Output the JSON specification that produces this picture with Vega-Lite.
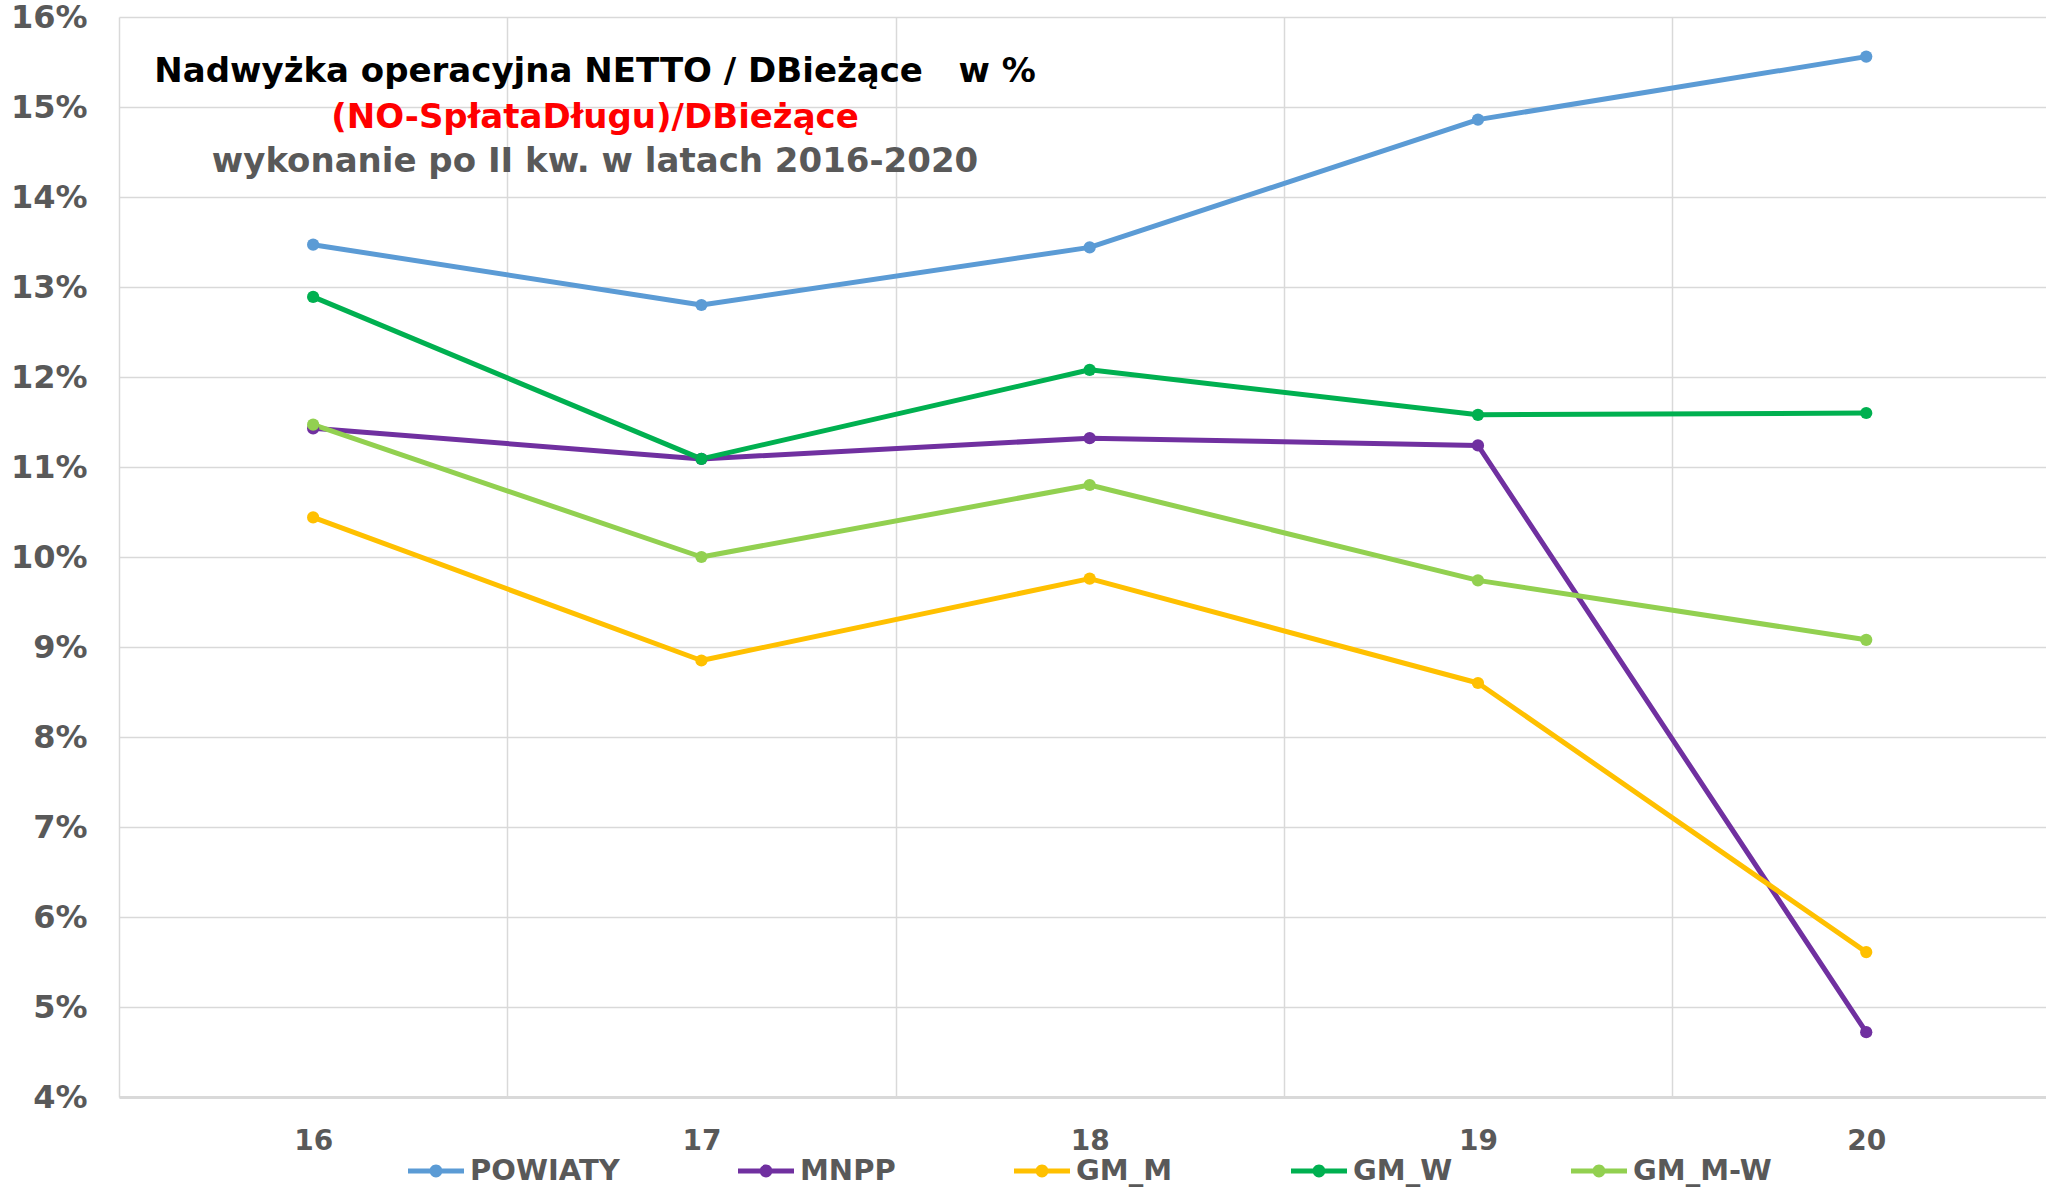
{
  "$schema": "https://vega.github.io/schema/vega-lite/v6.json",
  "width": 1927,
  "height": 1080,
  "autosize": {"type": "none"},
  "padding": {"left": 119, "top": 17, "right": 0, "bottom": 90},
  "background": "white",
  "config": {"view": {"stroke": null}, "font": "DejaVu Sans"},
  "datasets": {
    "serie": [
      {"rok": 16, "seria": "POWIATY", "wartosc": 13.47},
      {"rok": 17, "seria": "POWIATY", "wartosc": 12.80},
      {"rok": 18, "seria": "POWIATY", "wartosc": 13.44},
      {"rok": 19, "seria": "POWIATY", "wartosc": 14.86},
      {"rok": 20, "seria": "POWIATY", "wartosc": 15.56},
      {"rok": 16, "seria": "MNPP", "wartosc": 11.43},
      {"rok": 17, "seria": "MNPP", "wartosc": 11.09},
      {"rok": 18, "seria": "MNPP", "wartosc": 11.32},
      {"rok": 19, "seria": "MNPP", "wartosc": 11.24},
      {"rok": 20, "seria": "MNPP", "wartosc": 4.72},
      {"rok": 16, "seria": "GM_M", "wartosc": 10.44},
      {"rok": 17, "seria": "GM_M", "wartosc": 8.85},
      {"rok": 18, "seria": "GM_M", "wartosc": 9.76},
      {"rok": 19, "seria": "GM_M", "wartosc": 8.60},
      {"rok": 20, "seria": "GM_M", "wartosc": 5.61},
      {"rok": 16, "seria": "GM_W", "wartosc": 12.89},
      {"rok": 17, "seria": "GM_W", "wartosc": 11.09},
      {"rok": 18, "seria": "GM_W", "wartosc": 12.08},
      {"rok": 19, "seria": "GM_W", "wartosc": 11.58},
      {"rok": 20, "seria": "GM_W", "wartosc": 11.60},
      {"rok": 16, "seria": "GM_M-W", "wartosc": 11.47},
      {"rok": 17, "seria": "GM_M-W", "wartosc": 10.00},
      {"rok": 18, "seria": "GM_M-W", "wartosc": 10.80},
      {"rok": 19, "seria": "GM_M-W", "wartosc": 9.74},
      {"rok": 20, "seria": "GM_M-W", "wartosc": 9.08}
    ],
    "tytul1": [{"tekst": "Nadwyżka operacyjna NETTO / DBieżące\u00a0\u00a0\u00a0w %", "x": 16.726, "y": 15.39}],
    "tytul2": [{"tekst": "(NO-SpłataDługu)/DBieżące", "x": 16.726, "y": 14.88}],
    "tytul3": [{"tekst": "wykonanie po II kw. w latach 2016-2020", "x": 16.726, "y": 14.39}]
  },
  "layer": [
    {
      "data": {"name": "serie"},
      "mark": {"type": "line", "strokeWidth": 5, "strokeJoin": "round", "strokeCap": "round", "point": {"filled": true, "size": 150, "opacity": 1}},
      "encoding": {
        "x": {
          "field": "rok", "type": "quantitative",
          "scale": {"domain": [15.5, 20.463], "nice": false, "zero": false},
          "axis": {
            "values": [15.5, 16, 16.5, 17, 17.5, 18, 18.5, 19, 19.5, 20],
            "title": null,
            "grid": true,
            "gridColor": "#D9D9D9",
            "gridWidth": 1.5,
            "gridOpacity": {"condition": {"test": "datum.value % 1 === 0", "value": 0}, "value": 1},
            "ticks": false,
            "domain": true,
            "domainColor": "#D9D9D9",
            "domainWidth": 3,
            "labelExpr": "datum.value % 1 === 0 ? format(datum.value, 'd') : ''",
            "labelFont": "DejaVu Sans",
            "labelFontWeight": "bold",
            "labelFontSize": 28,
            "labelColor": "#595959",
            "labelPadding": 30,
            "labelFlush": false,
            "labelOverlap": false
          }
        },
        "y": {
          "field": "wartosc", "type": "quantitative",
          "scale": {"domain": [4, 16], "nice": false, "zero": false},
          "axis": {
            "values": [4, 5, 6, 7, 8, 9, 10, 11, 12, 13, 14, 15, 16],
            "title": null,
            "grid": true,
            "gridColor": "#D9D9D9",
            "gridWidth": 1.5,
            "ticks": false,
            "domain": false,
            "labelExpr": "datum.value + '%'",
            "labelFont": "DejaVu Sans",
            "labelFontWeight": "bold",
            "labelFontSize": 32,
            "labelColor": "#595959",
            "labelPadding": 32,
            "labelFlush": false,
            "labelOverlap": false
          }
        },
        "color": {
          "field": "seria", "type": "nominal",
          "scale": {
            "domain": ["POWIATY", "MNPP", "GM_M", "GM_W", "GM_M-W"],
            "range": ["#5B9BD5", "#7030A0", "#FFC000", "#00B050", "#92D050"]
          },
          "legend": {
            "orient": "none",
            "legendX": 289,
            "legendY": 1126,
            "direction": "horizontal",
            "title": null,
            "symbolType": "M-1,-0.09L1,-0.09L1,0.09L-1,0.09Z M-0.23,0A0.23,0.23 0 1,1 0.23,0A0.23,0.23 0 1,1 -0.23,0Z",
            "symbolSize": 3136,
            "symbolStrokeWidth": 0,
            "symbolOpacity": 1,
            "labelFont": "DejaVu Sans",
            "labelFontWeight": "bold",
            "labelFontSize": 29,
            "labelColor": "#595959",
            "labelOffset": 6,
            "columnPadding": 118,
            "encode": {
              "symbols": {"update": {"fill": {"scale": "color", "field": "value"}, "opacity": {"value": 1}}}
            }
          }
        }
      }
    },
    {
      "data": {"name": "tytul1"},
      "mark": {"type": "text", "font": "DejaVu Sans", "fontWeight": "bold", "fontSize": 34, "color": "#000000", "align": "center", "baseline": "middle"},
      "encoding": {
        "x": {"field": "x", "type": "quantitative"},
        "y": {"field": "y", "type": "quantitative"},
        "text": {"field": "tekst"}
      }
    },
    {
      "data": {"name": "tytul2"},
      "mark": {"type": "text", "font": "DejaVu Sans", "fontWeight": "bold", "fontSize": 34, "color": "#FF0000", "align": "center", "baseline": "middle"},
      "encoding": {
        "x": {"field": "x", "type": "quantitative"},
        "y": {"field": "y", "type": "quantitative"},
        "text": {"field": "tekst"}
      }
    },
    {
      "data": {"name": "tytul3"},
      "mark": {"type": "text", "font": "DejaVu Sans", "fontWeight": "bold", "fontSize": 34, "color": "#595959", "align": "center", "baseline": "middle"},
      "encoding": {
        "x": {"field": "x", "type": "quantitative"},
        "y": {"field": "y", "type": "quantitative"},
        "text": {"field": "tekst"}
      }
    }
  ]
}
